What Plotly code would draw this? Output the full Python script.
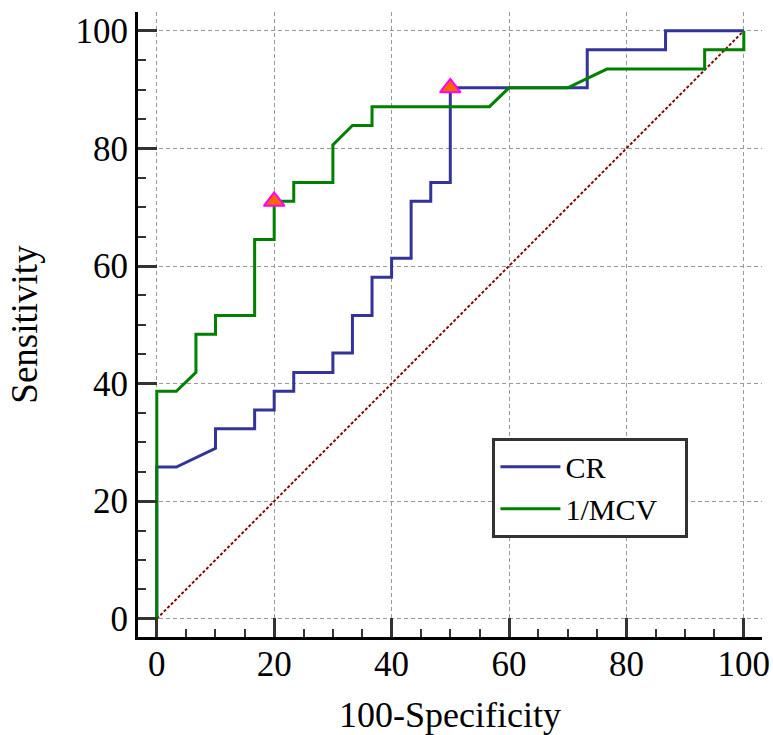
import plotly.graph_objects as go

# ROC data (100-Specificity, Sensitivity)
cr_x = [0, 0, 3.33, 10, 10, 16.67, 16.67, 20, 20, 23.33, 23.33, 30, 30, 33.33, 33.33,
        36.67, 36.67, 40, 40, 43.33, 43.33, 46.67, 46.67, 50, 50, 73.33, 73.33, 86.67, 86.67, 100]
cr_y = [0, 25.8, 25.8, 29.0, 32.3, 32.3, 35.5, 35.5, 38.7, 38.7, 41.9, 41.9, 45.2, 45.2, 51.6,
        51.6, 58.1, 58.1, 61.3, 61.3, 71.0, 71.0, 74.2, 74.2, 90.3, 90.3, 96.8, 96.8, 100, 100]

mcv_x = [0, 0, 3.33, 6.67, 6.67, 10, 10, 16.67, 16.67, 20, 20, 23.33, 23.33, 30, 30, 33.33,
         36.67, 36.67, 56.67, 60, 70, 76.67, 93.33, 93.33, 100, 100]
mcv_y = [0, 38.7, 38.7, 41.9, 48.4, 48.4, 51.6, 51.6, 64.5, 64.5, 71.0, 71.0, 74.2, 74.2, 80.6, 83.9,
         83.9, 87.1, 87.1, 90.3, 90.3, 93.5, 93.5, 96.8, 96.8, 100]

ref_x = [0, 100]
ref_y = [0, 100]

crit_x = [20, 50]
crit_y = [71.0, 90.3]

tick_vals = [0, 20, 40, 60, 80, 100]

FONT = "Liberation Serif, Times New Roman, serif"
NB = "\u00a0"

fig = go.Figure()
fig.add_trace(go.Scatter(x=ref_x, y=ref_y, mode="lines", showlegend=False,
                         line=dict(color="#800000", width=1.9, dash="3px,2px"), hoverinfo="skip"))
fig.add_trace(go.Scatter(x=cr_x, y=cr_y, mode="lines", name="CR",
                         line=dict(color="#333399", width=3)))
fig.add_trace(go.Scatter(x=mcv_x, y=mcv_y, mode="lines", name="1/MCV" + NB * 3,
                         line=dict(color="#008000", width=3)))
fig.add_trace(go.Scatter(x=crit_x, y=crit_y, mode="markers", showlegend=False,
                         marker=dict(symbol="triangle-up", size=18, color="#FF6600",
                                     line=dict(color="#FF00FF", width=2))))

axis_common = dict(
    tickvals=tick_vals,
    ticktext=[str(v) for v in tick_vals],
    ticks="inside", ticklen=19, tickwidth=3, tickcolor="#333333",
    minor=dict(dtick=5, tick0=0, ticks="inside", ticklen=8, tickwidth=2, tickcolor="#333333",
               showgrid=False),
    showgrid=True, gridcolor="#999999", gridwidth=1.3, griddash="4px,3px",
    showline=True, linecolor="black", linewidth=3, mirror=False,
    zeroline=False, automargin=False,
    tickfont=dict(family=FONT, size=35, color="black"),
)

fig.update_xaxes(range=[-3.2, 103.1], title_text="100-Specificity", title_standoff=19,
                 title_font=dict(family=FONT, size=36, color="black"),
                 ticklabelstandoff=-6, **axis_common)
fig.update_yaxes(range=[-3.1, 103.2], title_text="Sensitivity", title_standoff=27,
                 title_font=dict(family=FONT, size=37, color="black"),
                 ticklabelstandoff=0, **axis_common)

fig.update_layout(
    width=773, height=735,
    margin=dict(l=138, r=11, t=12, b=98, autoexpand=False),
    plot_bgcolor="white", paper_bgcolor="white",
    font=dict(family=FONT, color="black"),
    legend=dict(x=0.568, y=0.319, xanchor="left", yanchor="top",
                bgcolor="white", bordercolor="#333333", borderwidth=3,
                font=dict(family=FONT, size=30, color="black"),
                itemwidth=60, tracegroupgap=0),
)

fig.write_html("out.html", config={"displayModeBar": False},
               post_script="document.body.style.margin='0';")
